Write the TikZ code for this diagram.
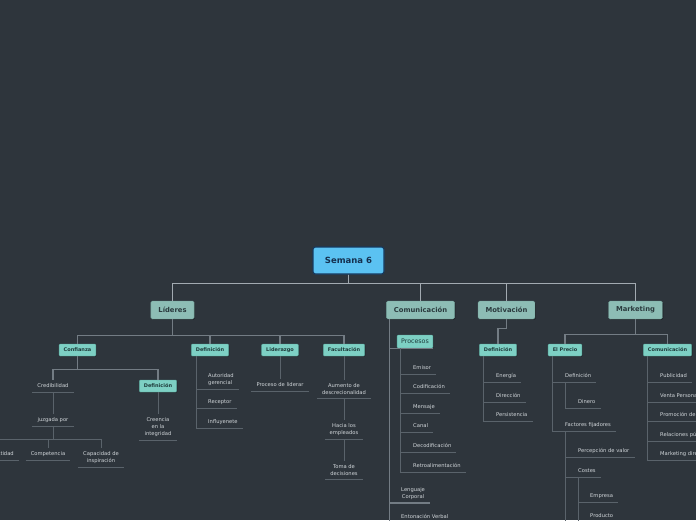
\documentclass[tikz,border=0pt]{standalone}
\usepackage{fontspec}
\setmainfont{DejaVu Sans}
\usepackage{tikz}
\usetikzlibrary{shadows}
\usepackage{xcolor}
\definecolor{bg}{HTML}{2E353C}
\definecolor{rootfill}{HTML}{5BC2F2}
\definecolor{rootline}{HTML}{16395E}
\definecolor{roottext}{HTML}{15304F}
\definecolor{mainfill}{HTML}{8DBDB5}
\definecolor{mainline}{HTML}{6F9C95}
\definecolor{maintext}{HTML}{2B3B3E}
\definecolor{subfill}{HTML}{7DD0C4}
\definecolor{subline}{HTML}{5AA69C}
\definecolor{subtext}{HTML}{1F3B3B}
\definecolor{leaftext}{HTML}{D2D7DB}
\definecolor{barcol}{HTML}{A2AAB1}
\definecolor{midcol}{HTML}{737C84}
\definecolor{lowcol}{HTML}{5A636B}

\begin{document}
\begin{tikzpicture}[x=1pt, y=-1pt,
  rootbox/.style={draw=rootline, fill=rootfill, line width=1.1pt, rounded corners=2.5pt, minimum width=71pt, minimum height=27pt, text=roottext, font=\bfseries\fontsize{8.5}{10}\selectfont},
  mainbox/.style={draw=mainline, fill=mainfill, rounded corners=1.5pt, minimum height=18pt, inner xsep=7.5pt, text=maintext, font=\bfseries\fontsize{6.8}{8}\selectfont, drop shadow={shadow xshift=0.8pt, shadow yshift=-0.8pt, fill=black, opacity=0.35}},
  subbox/.style={draw=subline, fill=subfill, rounded corners=1pt, minimum height=12pt, inner xsep=4.6pt, text=subtext, font=\bfseries\fontsize{5}{6}\selectfont, drop shadow={shadow xshift=0.6pt, shadow yshift=-0.6pt, fill=black, opacity=0.35}},
  leafbase/.style={text=leaftext, font=\fontsize{5.2}{7}\selectfont, inner xsep=5pt, inner ysep=3.5pt},
  leaf/.style={leafbase, text height=4pt, text depth=1pt},
  leafc/.style={leafbase, align=center},
  leafl/.style={leafbase, align=left},
  top/.style={draw=barcol, line width=1.8pt},
  mid/.style={draw=midcol, line width=1.1pt},
  low/.style={draw=lowcol, line width=0.9pt}]
\useasboundingbox (0,0) rectangle (696,520);
\fill[bg] (0,0) rectangle (696,520);
\clip (0,0) rectangle (696,520);

\node[rootbox] (root) at (348.5,260.5) {Semana 6};
\node[mainbox] (lid) at (172.5,310) {Líderes};
\node[mainbox] (com) at (420.5,310) {Comunicación};
\node[mainbox] (mot) at (506.5,310) {Motivación};
\node[mainbox] (mkt) at (635.5,310) {Marketing};
\foreach \n in {lid,com,mot,mkt}
  \draw[top] (root.south) -- ++(0,9) -| (\n.north);

% Lideres
\node[subbox] (conf) at (77.5,350) {Confianza};
\node[subbox] (liddef) at (210,350) {Definición};
\node[subbox] (lidlead) at (280,350) {Liderazgo};
\node[subbox] (lidfac) at (344,350) {Facultación};
\foreach \n in {conf,liddef,lidlead,lidfac}
  \draw[mid] (lid.south) -- ++(0,16) -| (\n.north);

\node[leaf, anchor=south] (cred) at (53,392) {Credibilidad};
\node[subbox] (confdef) at (158,386) {Definición};
\draw[mid] (conf.south) -- ++(0,13) -| (cred.north);
\draw[mid] (conf.south) -- ++(0,13) -| (confdef.north);
\draw[low] (cred.south west) -- (cred.south east);
\node[leaf, anchor=south] (juz) at (53,426) {juzgada por};
\draw[low] (cred.south) -- (juz.north);
\draw[low] (juz.south west) -- (juz.south east);
\node[leaf, anchor=south] (hon) at (-1,460) {Honestidad};
\node[leaf, anchor=south] (comp) at (48,460) {Competencia};
\node[leafc, anchor=south] (capac) at (101,467) {Capacidad de\\inspiración};
\foreach \n in {hon,comp,capac} {
  \draw[low] (juz.south) -- ++(0,13) -| (\n.north);
  \draw[low] (\n.south west) -- (\n.south east);
}
\node[leafc, anchor=south] (crei) at (158,440) {Creencia\\en la\\integridad};
\draw[low] (confdef.south) -- (crei.north);
\draw[low] (crei.south west) -- (crei.south east);

\node[leafl, anchor=south west] (aut) at (203,389) {Autoridad\\gerencial};
\node[leaf, anchor=south west] (recep) at (203,408) {Receptor};
\node[leaf, anchor=south west] (influ) at (203,428) {Influyenete};
\foreach \n in {aut,recep,influ}
  \draw[low] ([xshift=5pt]liddef.south west) |- (\n.south east);

\node[leaf, anchor=south] (plid) at (280,391) {Proceso de liderar};
\draw[low] (lidlead.south) -- (plid.north);
\draw[low] (plid.south west) -- (plid.south east);

\node[leafc, anchor=south] (aum) at (344,398) {Aumento de\\descrecionalidad};
\node[leafc, anchor=south] (hacia) at (344,439) {Hacia los\\empleados};
\node[leafc, anchor=south] (toma) at (344,479) {Toma de\\decisiones};
\draw[low] (lidfac.south) -- (aum.north);
\draw[low] (aum.south) -- (hacia.north);
\draw[low] (hacia.south) -- (toma.north);
\foreach \n in {aum,hacia,toma}
  \draw[low] (\n.south west) -- (\n.south east);

% Comunicacion
\node[draw=subline, fill=subfill, rounded corners=1pt, minimum height=13pt, inner xsep=4pt, text=subtext, font=\fontsize{6.3}{7}\selectfont, drop shadow={shadow xshift=0.6pt, shadow yshift=-0.6pt, fill=black, opacity=0.35}] (proc) at (415,341.5) {Procesos};
\draw[mid] ([xshift=3pt]com.south west) |- (proc.south east);
\node[leaf, anchor=south west] (emi) at (408,374) {Emisor};
\node[leaf, anchor=south west] (codi) at (408,393) {Codificación};
\node[leaf, anchor=south west] (mens) at (408,413) {Mensaje};
\node[leaf, anchor=south west] (canal) at (408,432) {Canal};
\node[leaf, anchor=south west] (deco) at (408,452) {Decodificación};
\node[leaf, anchor=south west] (retro) at (408,472) {Retroalimentación};
\foreach \n in {emi,codi,mens,canal,deco,retro}
  \draw[low] ([xshift=4pt]proc.south west) |- (\n.south east);
\node[leafc, anchor=south west] (leng) at (396,503) {Lenguaje\\Corporal};
\node[leaf, anchor=south west] (ento) at (396,523) {Entonación Verbal};
\foreach \n in {leng,ento}
  \draw[mid] ([xshift=3pt]com.south west) |- (\n.south east);

% Motivacion
\node[subbox] (motdef) at (498,350) {Definición};
\draw[mid] (mot.south) -- ++(0,9) -| (motdef.north);
\node[leaf, anchor=south west] (ener) at (491,382) {Energía};
\node[leaf, anchor=south west] (dire) at (491,402) {Dirección};
\node[leaf, anchor=south west] (pers) at (491,421) {Persistencia};
\foreach \n in {ener,dire,pers}
  \draw[low] ([xshift=4pt]motdef.south west) |- (\n.south east);

% Marketing
\node[subbox] (precio) at (565,350) {El Precio};
\node[subbox] (mktcom) at (667.5,350) {Comunicación};
\foreach \n in {precio,mktcom}
  \draw[mid] (mkt.south) -- ++(0,15) -| (\n.north);

\node[leaf, anchor=south west] (predef) at (560,382) {Definición};
\node[leaf, anchor=south west] (fact) at (560,431) {Factores fijadores};
\foreach \n in {predef,fact}
  \draw[low] ([xshift=4pt]precio.south west) |- (\n.south east);
\node[leaf, anchor=south west] (dinero) at (573,408) {Dinero};
\draw[low] ([xshift=5pt]predef.south west) |- (dinero.south east);
\node[leaf, anchor=south west] (perc) at (573,457) {Percepción de valor};
\node[leaf, anchor=south west] (costes) at (573,477) {Costes};
\foreach \n in {perc,costes}
  \draw[low] ([xshift=5pt]fact.south west) |- (\n.south east);
\draw[low] ([xshift=5pt]fact.south west) -- ++(0,100);
\node[leaf, anchor=south west] (empr) at (585,502) {Empresa};
\node[leaf, anchor=south west] (prod) at (585,522) {Producto};
\foreach \n in {empr,prod}
  \draw[low] ([xshift=5pt]costes.south west) |- (\n.south east);

\node[leaf, anchor=south west] (publ) at (655,382) {Publicidad};
\node[leaf, anchor=south west] (venta) at (655,402) {Venta Personal};
\node[leaf, anchor=south west] (promo) at (655,421) {Promoción de ventas};
\node[leaf, anchor=south west] (rel) at (655,441) {Relaciones públicas};
\node[leaf, anchor=south west] (mdir) at (655,460) {Marketing directo};
\foreach \n in {publ,venta,promo,rel,mdir}
  \draw[low] ([xshift=4pt]mktcom.south west) |- (\n.south east);
\end{tikzpicture}
\end{document}
